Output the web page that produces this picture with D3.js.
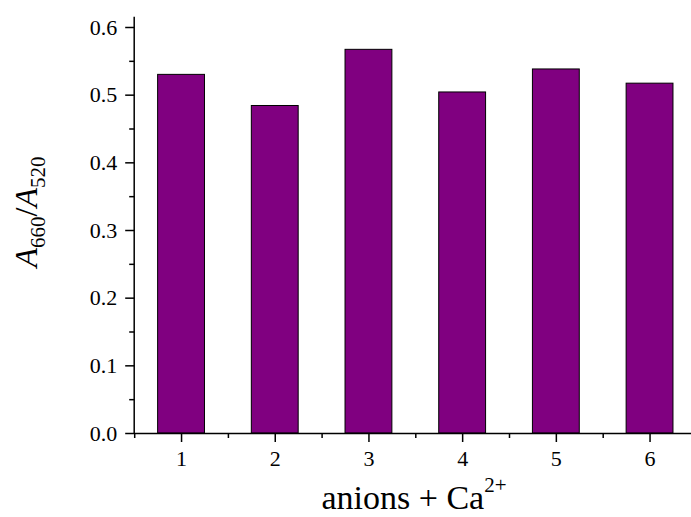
<!DOCTYPE html>
<html>
<head>
<meta charset="utf-8">
<script src="https://cdn.jsdelivr.net/npm/d3@7"></script>
<style>
  body { margin: 0; background: #fff; }
  svg { display: block; }
</style>
</head>
<body>
<svg width="691" height="517"></svg>
<script>
// data
const groups = [1, 2, 3, 4, 5, 6];
const ratios = [0.530, 0.484, 0.567, 0.504, 0.538, 0.517];
const yTicks = [0, 0.1, 0.2, 0.3, 0.4, 0.5, 0.6];
const yMinor = [0.05, 0.15, 0.25, 0.35, 0.45, 0.55];
const xMinor = [0.5, 1.5, 2.5, 3.5, 4.5, 5.5, 6.5];

const serif = "Liberation Serif";
const svg = d3.select("svg");

const x = d3.scaleLinear().domain([0.5, 6.5]).range([134.2, 696.4]);
const y = d3.scaleLinear().domain([0, 0.6]).range([433, 27]);
const barW = x(1.25) - x(1);

// bars
svg.append("g")
  .selectAll("rect")
  .data(groups)
  .enter().append("rect")
    .attr("x", (d) => x(d) - barW)
    .attr("y", (d, i) => y(ratios[i]))
    .attr("width", barW * 2)
    .attr("height", (d, i) => y(0) - y(ratios[i]))
    .attr("fill", "#800080")
    .attr("stroke", "#000")
    .attr("stroke-width", 1);

const styleAxis = (g) => {
  g.attr("font-family", serif).attr("font-size", 22);
  g.selectAll("path, line").attr("stroke", "#000").attr("stroke-width", 1.5);
  g.selectAll("text").attr("fill", "#000");
};

// y axis
const yAxis = svg.append("g")
  .attr("transform", `translate(${x(0.5)},0)`)
  .call(d3.axisLeft(y).tickValues(yTicks).tickFormat(d3.format(".1f")).tickSize(9).tickSizeOuter(0).tickPadding(8))
  .call(styleAxis);
yAxis.select(".domain").attr("d", `M0,${y(0)}V${y(0.615)}`);

svg.append("g")
  .attr("transform", `translate(${x(0.5)},0)`)
  .call(d3.axisLeft(y).tickValues(yMinor).tickFormat("").tickSize(5))
  .call(styleAxis)
  .select(".domain").remove();

// x axis
svg.append("g")
  .attr("transform", `translate(0,${y(0)})`)
  .call(d3.axisBottom(x).tickValues(groups).tickFormat(d3.format("d")).tickSize(9).tickSizeOuter(0).tickPadding(8))
  .call(styleAxis);

svg.append("g")
  .attr("transform", `translate(0,${y(0)})`)
  .call(d3.axisBottom(x).tickValues(xMinor).tickFormat("").tickSize(5))
  .call(styleAxis)
  .select(".domain").remove();

// axis titles
const xt = svg.append("text")
  .attr("x", 414)
  .attr("y", 509)
  .attr("text-anchor", "middle")
  .attr("font-family", serif)
  .attr("font-size", 34);
xt.append("tspan").text("anions + Ca");
xt.append("tspan").attr("font-size", 21).attr("dy", -17).text("2+");

const yt = svg.append("text")
  .attr("transform", "translate(37,212) rotate(-90)")
  .attr("text-anchor", "middle")
  .attr("font-family", serif)
  .attr("font-size", 32);
yt.append("tspan").attr("font-style", "italic").text("A");
yt.append("tspan").attr("font-size", 21).attr("dy", 8).text("660");
yt.append("tspan").attr("dy", -8).text("/");
yt.append("tspan").attr("font-style", "italic").text("A");
yt.append("tspan").attr("font-size", 21).attr("dy", 8).text("520");
</script>
</body>
</html>
